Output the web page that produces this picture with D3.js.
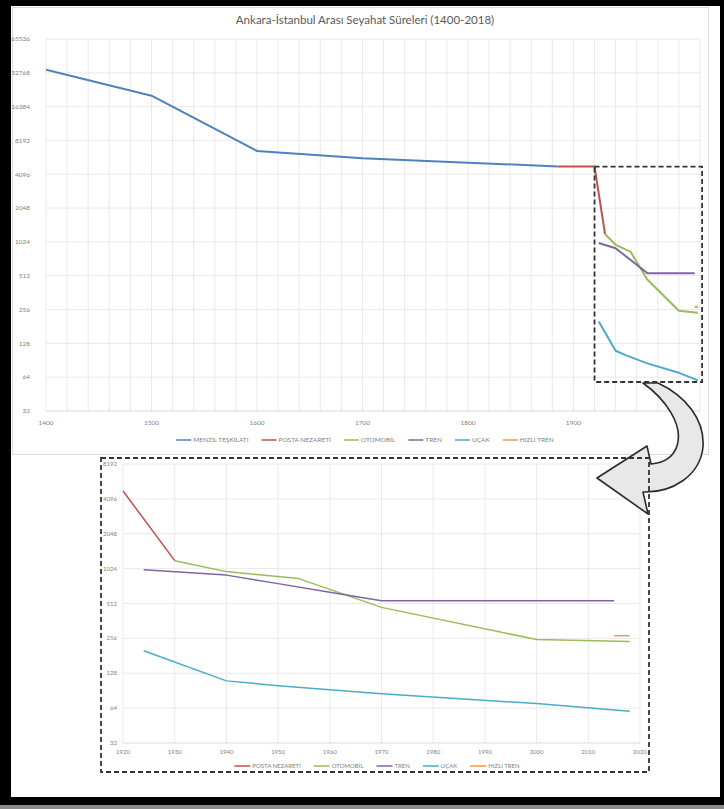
<!DOCTYPE html>
<html>
<head>
<meta charset="utf-8">
<script src="https://cdn.jsdelivr.net/npm/d3@7"></script>
<style>
  body { margin: 0; background: #000; }
  text { font-family: Lato, "Open Sans", sans-serif; fill: #7f7f7f; }
</style>
</head>
<body>
<svg id="chart" width="724" height="809"></svg>
<script>
const title = 'Ankara-İstanbul Arası Seyahat Süreleri (1400-2018)'
const seriesNames = ['MENZİL TEŞKİLATI', 'POSTA NEZARETİ', 'OTOMOBİL', 'TREN', 'UÇAK', 'HIZLI TREN']
const seriesColors = ['#4f81bd', '#c0504d', '#9bbb59', '#8064a2', '#4bacc6', '#f79646']

// travel times, minutes
const menzilYears = [1400, 1500, 1600, 1700, 1800, 1885]
const menzilValues = [35000, 20500, 6600, 5700, 5200, 4800]
const postaYears = [1885, 1920, 1930]
const postaValues = [4800, 4800, 1200]
const otomobilYears = [1930, 1940, 1954, 1970, 2000, 2018]
const otomobilValues = [1200, 965, 840, 474, 250, 240]
const trenYears = [1924, 1940, 1950, 1960, 1970, 2015]
const trenValues = [1000, 900, 760, 640, 540, 540]
const ucakYears = [1924, 1940, 1950, 1970, 2000, 2018]
const ucakValues = [200, 110, 100, 85, 70, 60]
const hizliYears = [2015, 2018]
const hizliValues = [270, 270]

const yTicksTop = [32, 64, 128, 256, 512, 1024, 2048, 4096, 8192, 16384, 32768, 65536]
const xTicksTop = [1400, 1500, 1600, 1700, 1800, 1900]
const yTicksBottom = [32, 64, 128, 256, 512, 1024, 2048, 4096, 8192]
const xTicksBottom = [1920, 1930, 1940, 1950, 1960, 1970, 1980, 1990, 2000, 2010, 2020]

const allYears = [menzilYears, postaYears, otomobilYears, trenYears, ucakYears, hizliYears]
const allValues = [menzilValues, postaValues, otomobilValues, trenValues, ucakValues, hizliValues]
const series = seriesNames.map((name, i) => ({
    name: name,
    color: seriesColors[i],
    points: allYears[i].map((yr, j) => ({ year: yr, value: allValues[i][j] }))
}))

const svg = d3.select('#chart')

// page
svg.append('rect').attr('x', 11).attr('y', 6).attr('width', 709).attr('height', 791).attr('fill', '#fff')
svg.append('rect').attr('x', 0).attr('y', 805).attr('width', 724).attr('height', 4).attr('fill', '#8a8a8a')
svg.append('rect').attr('x', 12.5).attr('y', 7.5).attr('width', 696).attr('height', 447)
    .attr('fill', '#fff').attr('stroke', '#d9d9d9')

const drawChart = (g, opts) => {
    const x = d3.scaleLinear().domain(opts.xDomain).range(opts.xRange)
    const y = d3.scaleLog().base(2).domain(opts.yDomain).range(opts.yRange)

    g.append('g').selectAll('line.v')
        .data(d3.range(opts.xDomain[0], opts.xDomain[1] + 1, opts.xGridStep))
        .enter().append('line')
        .attr('x1', d => x(d)).attr('x2', d => x(d))
        .attr('y1', opts.yRange[1]).attr('y2', opts.yRange[0])
        .attr('stroke', '#e3e3e3').attr('stroke-width', 0.8)

    g.append('g').selectAll('line.h')
        .data(opts.yTicks)
        .enter().append('line')
        .attr('x1', opts.xRange[0]).attr('x2', opts.xRange[1])
        .attr('y1', d => y(d)).attr('y2', d => y(d))
        .attr('stroke', d => d === opts.yDomain[0] ? '#cfcfcf' : '#e3e3e3').attr('stroke-width', 0.8)

    g.append('g').selectAll('text')
        .data(opts.yTicks)
        .enter().append('text')
        .attr('x', opts.yLabelX).attr('y', d => y(d))
        .attr('dy', '0.35em').attr('text-anchor', 'end')
        .style('font-size', opts.tickSize + 'px')
        .text(d => d)

    g.append('g').selectAll('text')
        .data(opts.xTicks)
        .enter().append('text')
        .attr('x', d => x(d)).attr('y', opts.xLabelY)
        .attr('text-anchor', 'middle')
        .style('font-size', opts.tickSize + 'px')
        .text(d => d)

    const clipId = 'clip-' + opts.id
    g.append('clipPath').attr('id', clipId).append('rect')
        .attr('x', opts.xRange[0]).attr('y', opts.yRange[1])
        .attr('width', opts.xRange[1] - opts.xRange[0]).attr('height', opts.yRange[0] - opts.yRange[1])

    const line = d3.line().x(d => x(d.year)).y(d => y(d.value))
    g.append('g').attr('clip-path', `url(#${clipId})`)
        .selectAll('path')
        .data(opts.series)
        .enter().append('path')
        .attr('d', d => line(d.points))
        .attr('fill', 'none')
        .attr('stroke', d => d.color)
        .attr('stroke-width', opts.lineWidth)
        .attr('stroke-linejoin', 'round')

    // legend, centred
    const legend = g.append('g')
    let cx = 0
    opts.series.forEach(s => {
        const item = legend.append('g').attr('transform', `translate(${cx},0)`)
        item.append('line').attr('x1', 0).attr('x2', opts.legendLine)
            .attr('stroke', s.color).attr('stroke-width', 1.5)
        const t = item.append('text').attr('x', opts.legendLine + 2).attr('dy', '0.35em')
            .style('font-size', opts.legendSize + 'px').text(s.name)
        cx += opts.legendLine + 2 + t.node().getComputedTextLength() + opts.legendGap
    })
    cx -= opts.legendGap
    legend.attr('transform', `translate(${opts.legendCenter - cx / 2},${opts.legendY})`)

    return { x, y }
}

svg.append('text')
    .attr('x', 365).attr('y', 24)
    .attr('text-anchor', 'middle')
    .style('font-size', '11.5px').style('fill', '#595959')
    .text(title)

const topChart = drawChart(svg.append('g'), {
    id: 'top',
    xDomain: [1400, 2020], xRange: [46, 700],
    yDomain: [32, 65536], yRange: [411, 39],
    xGridStep: 20, yTicks: yTicksTop, xTicks: xTicksTop,
    yLabelX: 30, xLabelY: 425, tickSize: 6.5,
    series: series, lineWidth: 2,
    legendLine: 15, legendSize: 6.5, legendGap: 13, legendCenter: 365, legendY: 440
})

drawChart(svg.append('g'), {
    id: 'bottom',
    xDomain: [1920, 2020], xRange: [123, 640],
    yDomain: [32, 8192], yRange: [743, 464],
    xGridStep: 10, yTicks: yTicksBottom, xTicks: xTicksBottom,
    yLabelX: 117, xLabelY: 754, tickSize: 6,
    series: series.slice(1), lineWidth: 1.5,
    legendLine: 16, legendSize: 6, legendGap: 13, legendCenter: 377, legendY: 766
})

// curved callout arrow
svg.append('path')
    .attr('d', 'M643,383 C664,398 684,424 677,446 C673,458 662,463 651,464 L647,446 L597,478 L648,514 L643,492 ' +
        'C672,493 700,476 703,447 C705,420 686,396 658,383 Z')
    .attr('fill', '#e8e8e8').attr('stroke', '#2b2b2b').attr('stroke-width', 1.6)
    .attr('stroke-linejoin', 'round')

// zoom frames
const x0 = topChart.x(1920), x1 = topChart.x(2022), y0 = topChart.y(4800), y1 = topChart.y(58)
svg.append('rect')
    .attr('x', x0).attr('y', y0).attr('width', x1 - x0).attr('height', y1 - y0)
    .attr('fill', 'none').attr('stroke', '#333').attr('stroke-width', 1.8).attr('stroke-dasharray', '5,3')
svg.append('rect')
    .attr('x', 101).attr('y', 458).attr('width', 548).attr('height', 314)
    .attr('fill', 'none').attr('stroke', '#333').attr('stroke-width', 1.8).attr('stroke-dasharray', '5,3')
</script>
</body>
</html>
